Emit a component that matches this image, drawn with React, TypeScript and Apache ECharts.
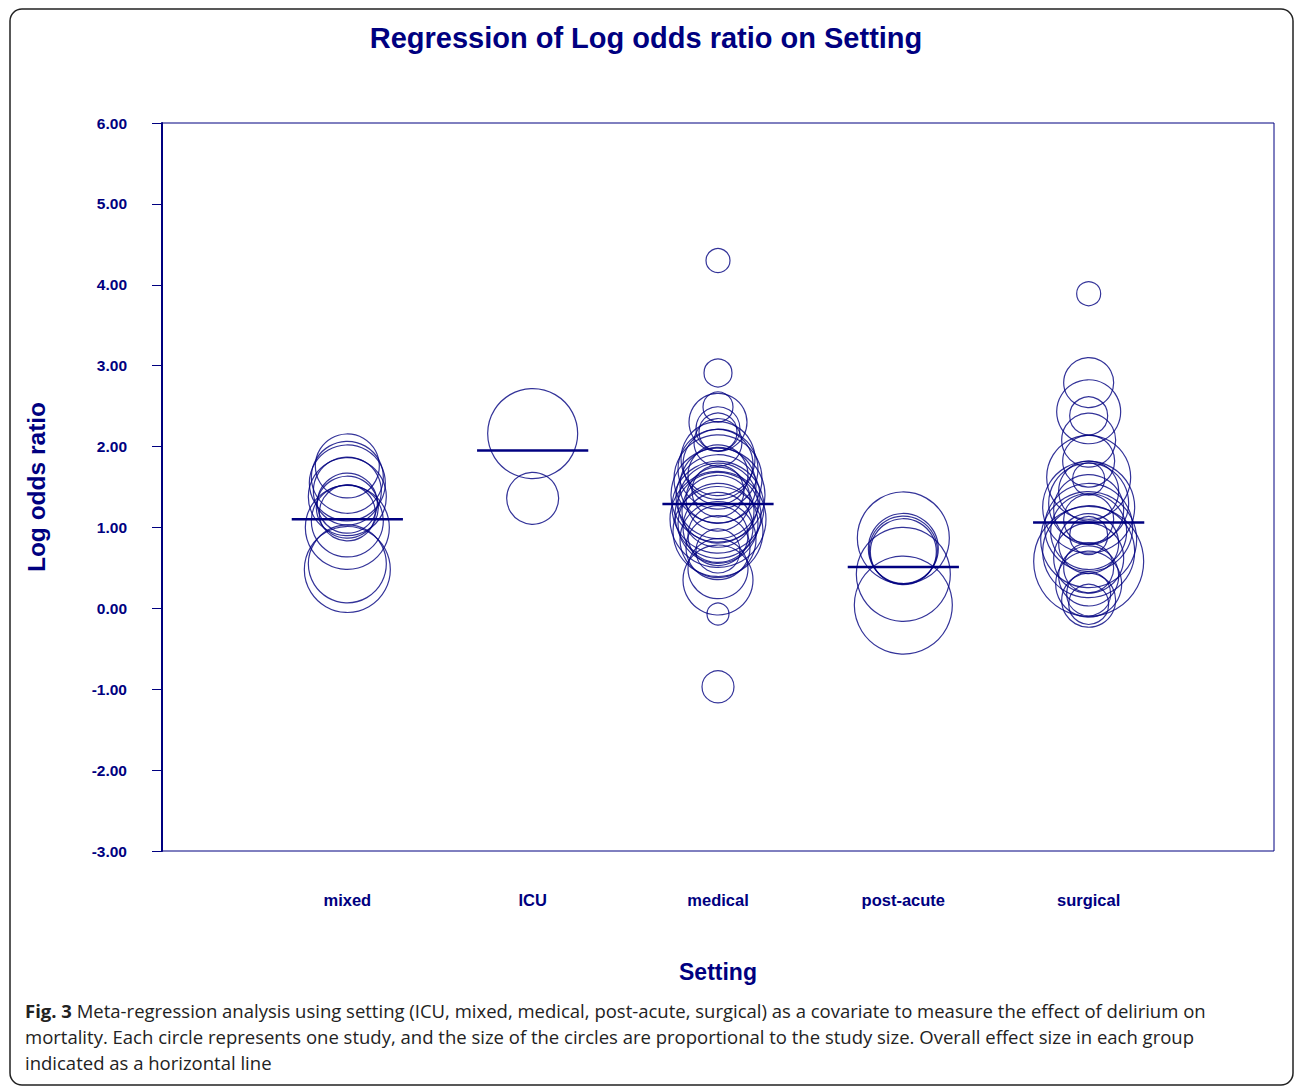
import React, { useEffect, useRef } from "react";
import * as echarts from "echarts";

const categories = ["mixed", "ICU", "medical", "post-acute", "surgical"];
const yTicks = [-3, -2, -1, 0, 1, 2, 3, 4, 5, 6];

// [log odds ratio, relative study size]
const mixed = [
  [1.76, 32], [1.62, 36], [1.55, 38], [1.45, 34], [1.38, 39], [1.3, 30],
  [1.25, 31], [1.18, 28], [1.08, 36], [1.0, 42], [0.55, 39], [0.48, 43],
];
const icu = [
  [2.16, 45], [1.36, 26],
];
const medical = [
  [4.3, 12], [2.91, 14], [2.49, 15], [2.3, 29], [2.22, 22], [2.18, 19],
  [2.05, 24], [1.85, 37], [1.78, 35], [1.72, 40], [1.65, 30], [1.6, 44],
  [1.52, 38], [1.45, 26], [1.4, 47], [1.38, 42], [1.35, 32], [1.3, 40],
  [1.25, 46], [1.2, 36], [1.15, 43], [1.1, 48], [1.05, 40], [1.0, 35],
  [0.95, 45], [0.9, 30], [0.85, 38], [0.75, 32], [0.71, 22], [0.49, 30],
  [0.35, 35], [-0.07, 11], [-0.97, 16],
];
const postAcute = [
  [0.87, 46], [0.74, 35], [0.72, 34], [0.7, 33], [0.42, 47], [0.04, 49],
];
const surgical = [
  [3.89, 12], [2.79, 25], [2.43, 32], [2.38, 19], [2.08, 27], [1.82, 26],
  [1.62, 42], [1.6, 16], [1.45, 30], [1.3, 40], [1.25, 46], [1.22, 35],
  [1.1, 25], [1.0, 44], [0.95, 38], [0.9, 19], [0.85, 48], [0.8, 30],
  [0.7, 46], [0.62, 35], [0.58, 55], [0.5, 25], [0.4, 30], [0.3, 33],
  [0.18, 22], [0.1, 27], [0.05, 20],
];
const groups = [mixed, icu, medical, postAcute, surgical];
const effects = [1.1, 1.95, 1.29, 0.51, 1.06];

const NAVY = "#000080";
const FONT = "Liberation Sans, Arial, sans-serif";

export default function App() {
  const ref = useRef<HTMLDivElement>(null);
  useEffect(() => {
    if (!ref.current) return;
    const chart = echarts.init(ref.current, undefined, { renderer: "svg" });
    const series: any[] = [];
    groups.forEach((g, i) => {
      series.push({
        type: "scatter",
        data: g.map((d) => [i + 1, d[0], d[1]]),
        symbol: "circle",
        symbolSize: (d: number[]) => d[2] * 2,
        itemStyle: { color: "rgba(0,0,0,0)", borderColor: NAVY, borderWidth: 1.2 },
        emphasis: { disabled: true },
        z: 2,
      });
    });
    effects.forEach((e, i) => {
      series.push({
        type: "line",
        data: [[i + 1 - 0.3, e], [i + 1 + 0.3, e]],
        symbol: "none",
        lineStyle: { color: NAVY, width: 2.5 },
        z: 3,
      });
    });
    const captionStyle = { fontFamily: "Open Sans", fontSize: 18.5, fill: "#222" };
    chart.setOption({
      animation: false,
      title: {
        text: "Regression of Log odds ratio on Setting",
        left: 641,
        top: 18,
        textAlign: "center",
        textStyle: { color: NAVY, fontSize: 29, fontWeight: "bold", fontFamily: FONT },
      },
      grid: {
        left: 162, top: 123, width: 1112, height: 728,
        show: true, borderColor: NAVY, borderWidth: 1,
      },
      xAxis: {
        type: "value", min: 0, max: 6, interval: 1,
        name: "Setting", nameLocation: "middle", nameGap: 109,
        nameTextStyle: { color: NAVY, fontSize: 23, fontWeight: "bold", fontFamily: FONT },
        axisLine: { show: false },
        axisTick: { show: false },
        splitLine: { show: false },
        axisLabel: {
          margin: 40,
          color: NAVY, fontSize: 16.5, fontWeight: "bold", fontFamily: FONT,
          formatter: (v: number) => categories[v - 1] ?? "",
        },
      },
      yAxis: {
        type: "value", min: yTicks[0], max: yTicks[yTicks.length - 1], interval: 1,
        name: "Log odds ratio", nameLocation: "middle", nameGap: 113,
        nameTextStyle: { color: NAVY, fontSize: 24.5, fontWeight: "bold", fontFamily: FONT },
        axisLine: { show: true, lineStyle: { color: NAVY, width: 2 } },
        axisTick: { show: true, length: 10, lineStyle: { color: NAVY, width: 1 } },
        splitLine: { show: false },
        axisLabel: {
          margin: 35,
          color: NAVY, fontSize: 15.5, fontWeight: "bold", fontFamily: FONT,
          formatter: (v: number) => v.toFixed(2),
        },
      },
      graphic: [
        {
          type: "rect",
          shape: { x: 10, y: 9, width: 1283, height: 1076, r: 12 },
          style: { fill: "none", stroke: "#222", lineWidth: 1.5 },
          silent: true,
        },
        {
          type: "text", x: 25, y: 1010,
          style: {
            ...captionStyle,
            text: "{b|Fig. 3} Meta-regression analysis using setting (ICU, mixed, medical, post-acute, surgical) as a covariate to measure the effect of delirium on",
            verticalAlign: "middle",
            rich: { b: { fontFamily: "Open Sans", fontSize: 18.5, fontWeight: "bold", fill: "#222" } },
          },
        },
        {
          type: "text", x: 25, y: 1036,
          style: { ...captionStyle, verticalAlign: "middle", text: "mortality. Each circle represents one study, and the size of the circles are proportional to the study size. Overall effect size in each group" },
        },
        {
          type: "text", x: 25, y: 1062,
          style: { ...captionStyle, verticalAlign: "middle", text: "indicated as a horizontal line" },
        },
      ],
      series,
    });
    return () => chart.dispose();
  }, []);
  return (
    <div
      ref={ref}
      style={{ position: "absolute", left: 0, top: 0, width: 1295, height: 1087, background: "#fff" }}
    />
  );
}
